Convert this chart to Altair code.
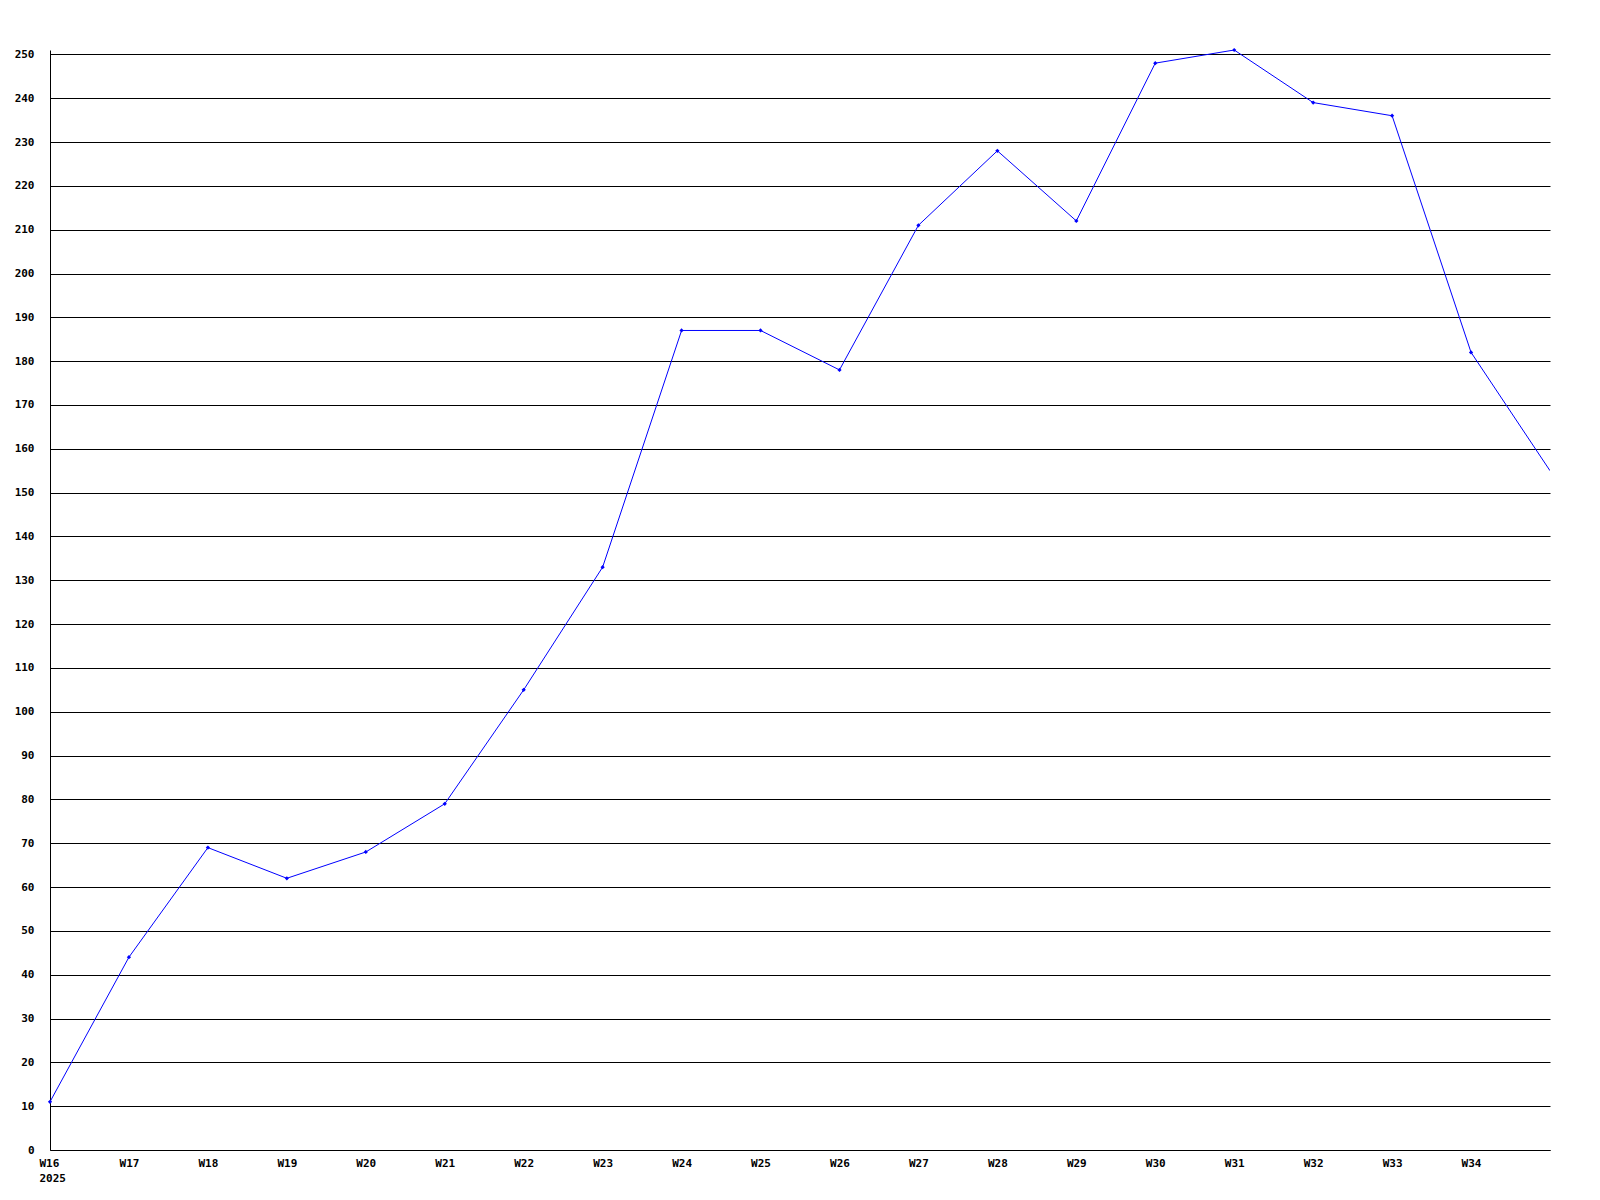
import altair as alt
import pandas as pd

weeks = ["W16", "W17", "W18", "W19", "W20", "W21", "W22", "W23", "W24", "W25",
         "W26", "W27", "W28", "W29", "W30", "W31", "W32", "W33", "W34", "W35"]
values = [11, 44, 69, 62, 68, 79, 105, 133, 187, 187,
          178, 211, 228, 212, 248, 251, 239, 236, 182, 155]
y_ticks = list(range(0, 251, 10))

df = pd.DataFrame({"week": weeks, "value": values})

FONT = "DejaVu Sans Mono"

x_enc = alt.X(
    "week:O",
    sort=weeks,
    scale=alt.Scale(type="point", padding=0),
    axis=alt.Axis(
        title=None,
        labelAngle=0,
        labelExpr="datum.value == 'W16' ? ['W16', '2025'] : (datum.value == 'W35' ? '' : datum.value)",
        labelAlign={"condition": {"test": "datum.value == 'W16'", "value": "left"}, "value": "center"},
        labelOffset={"condition": {"test": "datum.value == 'W16'", "value": -11}, "value": 0},
        ticks=False,
        grid=False,
        domainColor="black",
        labelPadding=7,
        labelLineHeight=15,
        labelBaseline="top",
    ),
)
y_enc = alt.Y(
    "value:Q",
    scale=alt.Scale(domain=[0, 251], nice=False, zero=True),
    axis=alt.Axis(
        title=None,
        values=y_ticks,
        ticks=False,
        grid=True,
        gridColor="black",
        gridOpacity=1,
        gridWidth=1,
        domainColor="black",
        labelPadding=16,
    ),
)

base = alt.Chart(df).encode(x=x_enc, y=y_enc)
line = base.mark_line(color="#0000FF", strokeWidth=1, clip=True)
pts = base.transform_filter("datum.week != 'W35'").mark_point(
    shape="diamond", filled=True, color="#0000FF", size=18, opacity=1
)

chart = (
    alt.layer(line, pts)
    .properties(
        width=1500,
        height=1100,
        autosize=alt.AutoSizeParams(type="none"),
        padding={"left": 42, "top": 42, "right": 10, "bottom": 40},
    )
    .configure_view(stroke=None)
    .configure_axis(
        labelFont=FONT,
        labelFontSize=11,
        labelFontWeight="bold",
        labelColor="black",
        domainWidth=1,
    )
)

chart.save("out.html", embed_options={"renderer": "svg", "actions": False})
